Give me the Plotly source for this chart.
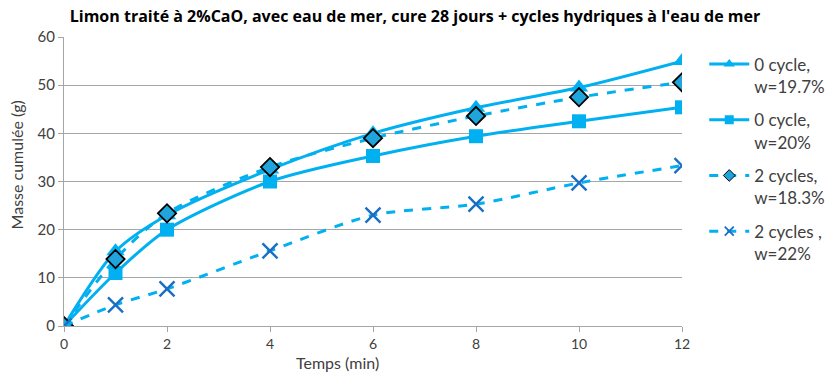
import plotly.graph_objects as go

# Temps (min)
temps = [0, 1, 2, 4, 6, 8, 10, 12]

# Masse cumulée (g) for each series
c0_w197 = [0, 15.5, 23.0, 32.5, 40.0, 45.3, 49.5, 55.0]
c0_w20 = [0, 11.0, 20.0, 30.0, 35.3, 39.4, 42.5, 45.4]
c2_w183 = [0, 13.9, 23.4, 33.0, 39.0, 43.6, 47.5, 50.6]
c2_w22 = [0, 4.4, 7.7, 15.6, 23.0, 25.3, 29.7, 33.3]

names = ["0 cycle,<br>w=19.7%", "0 cycle,<br>w=20%", "2 cycles,<br>w=18.3%", "2 cycles ,<br>w=22%"]

title = "Limon traité à 2%CaO, avec eau de mer, cure 28 jours + cycles hydriques à l'eau de mer"
x_ticks = [0, 2, 4, 6, 8, 10, 12]
y_ticks = [0, 10, 20, 30, 40, 50, 60]

BLUE = "#00B0F0"
FONT = "Lato"

series = [
    dict(y=c0_w197, dash="solid",
         marker=dict(symbol="triangle-up", size=16, color=BLUE),
         legend_marker=dict(symbol="triangle-up", size=10, color=BLUE)),
    dict(y=c0_w20, dash="solid",
         marker=dict(symbol="square", size=14, color=BLUE),
         legend_marker=dict(symbol="square", size=9, color=BLUE)),
    dict(y=c2_w183, dash="dash",
         marker=dict(symbol="diamond", size=14, color="#1FA5DC",
                     line=dict(color="black", width=1.8)),
         legend_marker=dict(symbol="diamond", size=9, color="#1FA5DC",
                            line=dict(color="black", width=1))),
    dict(y=c2_w22, dash="dash",
         marker=dict(symbol="x-thin", size=15, color="#1A6FC4",
                     line=dict(color="#1A6FC4", width=2.4)),
         legend_marker=dict(symbol="x-thin", size=9, color="#1A6FC4",
                            line=dict(color="#1A6FC4", width=1.8))),
]

fig = go.Figure()

for i, s in enumerate(series):
    line = dict(color=BLUE, width=3, dash=s["dash"], shape="spline", smoothing=0.8)
    fig.add_trace(go.Scatter(
        x=temps, y=s["y"], mode="lines+markers", showlegend=False,
        line=line, marker=s["marker"], hoverinfo="x+y",
    ))
    # legend entry with a smaller symbol
    fig.add_trace(go.Scatter(
        x=[None], y=[None], name=names[i], mode="lines+markers",
        legendgroup=f"g{i}", line=dict(color=BLUE, width=3, dash=s["dash"]),
        marker=s["legend_marker"],
    ))

fig.update_layout(
    width=830, height=373,
    margin=dict(l=64, r=148, t=37, b=47, autoexpand=False),
    paper_bgcolor="white", plot_bgcolor="white",
    font=dict(family=FONT, size=14, color="#404040"),
    title=dict(text="<b>" + title + "</b>", x=0.5, xanchor="center",
               y=0.955, yanchor="middle",
               font=dict(family="Open Sans", size=16, color="black")),
    showlegend=True,
    legend=dict(x=1.036, xanchor="left", y=0.967, yanchor="top",
                font=dict(family=FONT, size=17, color="#404040"),
                valign="top", tracegroupgap=8.5, itemwidth=40,
                bgcolor="rgba(0,0,0,0)"),
    xaxis=dict(range=[0, 12], tickvals=x_ticks, showgrid=False,
               showline=True, linecolor="#A6A6A6", linewidth=1,
               ticks="outside", ticklen=5, tickcolor="#A6A6A6",
               zeroline=False, tickfont=dict(size=14, color="#404040")),
    yaxis=dict(range=[0, 60], tickvals=y_ticks, showgrid=True,
               gridcolor="#A6A6A6", gridwidth=1,
               showline=True, linecolor="#A6A6A6", linewidth=1,
               ticks="outside", ticklen=5, tickcolor="#A6A6A6",
               zeroline=False, tickfont=dict(size=15, color="#404040")),
    annotations=[
        dict(text="Temps (min)", xref="paper", yref="paper",
             x=(337 - 64) / (682 - 64), y=-0.125, xanchor="center", yanchor="middle",
             showarrow=False, font=dict(family=FONT, size=16, color="#404040")),
        dict(text="Masse cumulée (g)", xref="paper", yref="paper",
             x=-0.077, y=(326 - 165) / (326 - 37), xanchor="center", yanchor="middle",
             textangle=-90, showarrow=False,
             font=dict(family=FONT, size=16, color="#404040")),
    ],
)

fig.write_html("out.html")
